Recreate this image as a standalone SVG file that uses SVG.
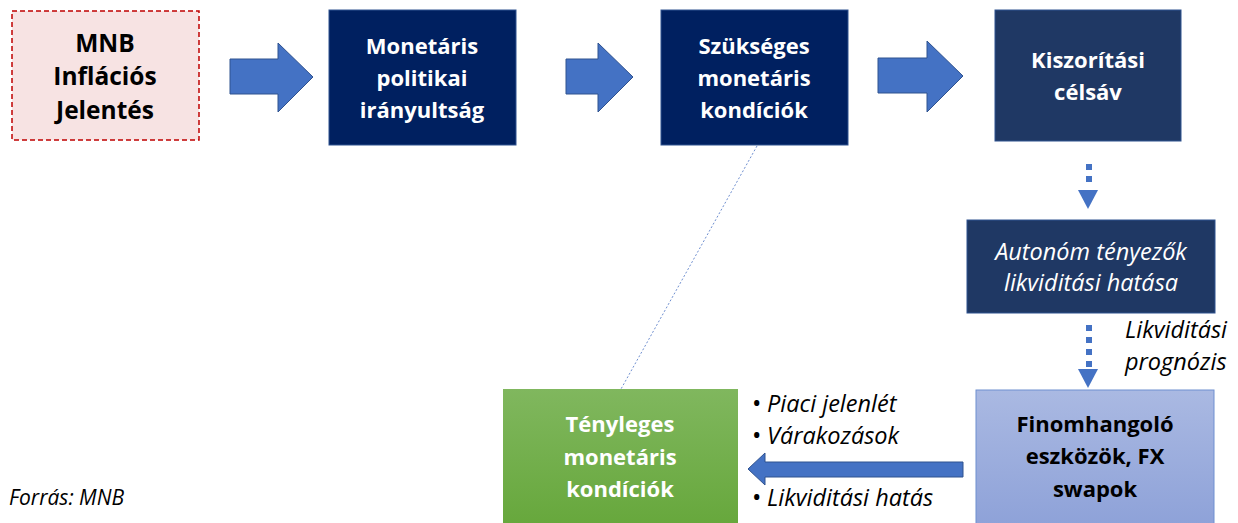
<svg xmlns="http://www.w3.org/2000/svg" width="1238" height="523" viewBox="0 0 1238 523">
<defs>
<linearGradient id="gGreen" x1="0" y1="0" x2="0" y2="1"><stop offset="0" stop-color="#80b75e"/><stop offset="1" stop-color="#66a73b"/></linearGradient>
<linearGradient id="gBlue" x1="0" y1="0" x2="0" y2="1"><stop offset="0" stop-color="#aab9e2"/><stop offset="1" stop-color="#8da1d8"/></linearGradient>
</defs>
<style>
.big{fill:#4472c4;stroke:#2f528f;stroke-width:1}
.t{font-family:"Open Sans","Liberation Sans",sans-serif;font-weight:bold;font-size:22px;text-anchor:middle}
.w{fill:#ffffff}
.k{fill:#000000}
.i{font-family:"Open Sans","Liberation Sans",sans-serif;font-style:italic;font-size:23.5px}
.b{font-style:normal;font-size:25px}
.dot{stroke:#4472c4;stroke-width:6;stroke-dasharray:6 6;fill:none}
.head{fill:#4472c4}
</style>
<rect width="1238" height="523" fill="#ffffff"/>
<g id="connectors">
<polygon class="big" points="230,59 278,59 278,43 313,77 278,112 278,94 230,94"/>
<polygon class="big" points="566,59 598,59 598,43 633,77 598,112 598,94 566,94"/>
<polygon class="big" points="878,58 927,58 927,41 963,76 927,112 927,93 878,93"/>
<polygon class="big" points="963,462 765,462 765,453 748,469 765,485 765,477 963,477"/>
<line class="dot" x1="1089" y1="164" x2="1089" y2="188"/>
<polygon class="head" points="1078,190 1098,190 1088,209"/>
<line class="dot" x1="1089" y1="325" x2="1089" y2="367"/>
<polygon class="head" points="1078,369 1098,369 1088,388"/>
<line x1="757" y1="146" x2="621" y2="389" stroke="#6f8fd0" stroke-width="1" stroke-dasharray="2 2"/>
</g>
<g id="mnb">
<rect x="12" y="11" width="187" height="129" fill="#f7e3e3" stroke="#c00000" stroke-width="1.5" stroke-dasharray="5 3"/>
<text class="t k" x="105" style="font-size:24.5px"><tspan x="105" y="52">MNB</tspan><tspan x="105" y="85">Inflációs</tspan><tspan x="105" y="119">Jelentés</tspan></text>
</g>
<g id="monetaris">
<rect x="329" y="10" width="187" height="135" fill="#002060" stroke="#2f528f" stroke-width="1"/>
<text class="t w" x="422"><tspan x="422" y="54">Monetáris</tspan><tspan x="422" y="86">politikai</tspan><tspan x="422" y="118">irányultság</tspan></text>
</g>
<g id="szukseges">
<rect x="661" y="10" width="187" height="135" fill="#002060" stroke="#2f528f" stroke-width="1"/>
<text class="t w" x="754"><tspan x="754" y="54">Szükséges</tspan><tspan x="754" y="86">monetáris</tspan><tspan x="754" y="118">kondíciók</tspan></text>
</g>
<g id="kiszoritasi">
<rect x="995" y="10" width="186" height="131" fill="#1f3864" stroke="#2f528f" stroke-width="1"/>
<text class="t w" x="1088"><tspan x="1088" y="68">Kiszorítási</tspan><tspan x="1088" y="100">célsáv</tspan></text>
</g>
<g id="autonom">
<rect x="967" y="220" width="248" height="93" fill="#1f3864" stroke="#2f528f" stroke-width="1"/>
<text class="i w" text-anchor="middle" x="1091"><tspan x="1091" y="260">Autonóm tényezők</tspan><tspan x="1091" y="291">likviditási hatása</tspan></text>
</g>
<g id="prognozis-label">
<text class="i k" x="1125"><tspan x="1125" y="338">Likviditási</tspan><tspan x="1125" y="370">prognózis</tspan></text>
</g>
<g id="finomhangolo">
<rect x="976" y="390" width="238" height="140" fill="url(#gBlue)" stroke="#6f8fd0" stroke-width="1"/>
<text class="t k" x="1095"><tspan x="1095" y="432">Finomhangoló</tspan><tspan x="1095" y="464">eszközök, FX</tspan><tspan x="1095" y="497">swapok</tspan></text>
</g>
<g id="tenyleges">
<rect x="503" y="389" width="235" height="140" fill="url(#gGreen)"/>
<text class="t w" x="620"><tspan x="620" y="432">Tényleges</tspan><tspan x="620" y="465">monetáris</tspan><tspan x="620" y="497">kondíciók</tspan></text>
</g>
<g id="bullets">
<text class="i k"><tspan class="b" x="752" y="412">•</tspan><tspan x="767" y="412">Piaci jelenlét</tspan></text>
<text class="i k"><tspan class="b" x="752" y="444">•</tspan><tspan x="767" y="444">Várakozások</tspan></text>
<text class="i k"><tspan class="b" x="752" y="506">•</tspan><tspan x="767" y="506">Likviditási hatás</tspan></text>
</g>
<g id="source">
<text class="i k" x="9" y="505" style="font-size:21px">Forrás: MNB</text>
</g>
</svg>
